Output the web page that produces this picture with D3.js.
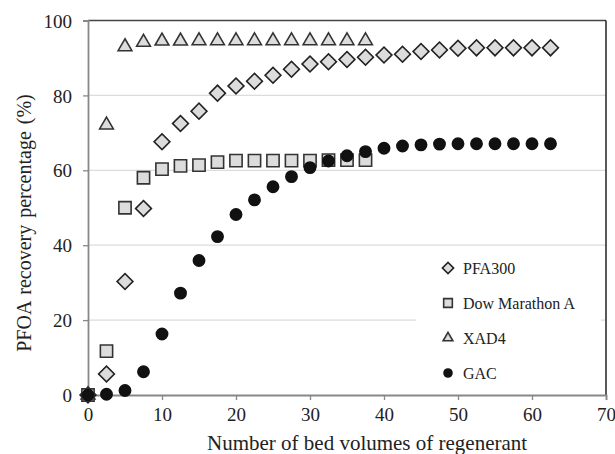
<!DOCTYPE html>
<html>
<head>
<meta charset="utf-8">
<script src="https://cdn.jsdelivr.net/npm/d3@7"></script>
<style>
  body { margin: 0; background: #fff; }
  svg text { font-family: "Liberation Serif", "Times New Roman", Tinos, "DejaVu Serif", serif !important; fill: #222; }
</style>
</head>
<body>
<svg id="chart" width="615" height="454"></svg>
<script>
// bed volumes (x) shared by all series, step 2.5
const bedVolumes = [0, 2.5, 5, 7.5, 10, 12.5, 15, 17.5, 20, 22.5, 25, 27.5, 30, 32.5, 35, 37.5,
    40, 42.5, 45, 47.5, 50, 52.5, 55, 57.5, 60, 62.5];

const pfa300 = [0, 5.6, 30.3, 49.8, 67.6, 72.5, 75.8, 80.6, 82.5, 83.8, 85.4, 87.0, 88.4, 89.0, 89.6, 90.2,
    90.8, 91.0, 91.7, 92.1, 92.6, 92.7, 92.7, 92.7, 92.7, 92.7];
const dowMarathonA = [0, 11.7, 50.0, 58.0, 60.3, 61.2, 61.4, 62.2, 62.6, 62.6, 62.6, 62.6, 62.6, 62.7, 62.7, 62.7];
const xad4 = [0, 72.1, 93.0, 94.2, 94.5, 94.5, 94.6, 94.6, 94.6, 94.6, 94.6, 94.6, 94.6, 94.6, 94.6, 94.6];
const gac = [0, 0.2, 1.2, 6.2, 16.3, 27.2, 35.9, 42.3, 48.2, 52.1, 55.6, 58.3, 60.7, 62.5, 63.9, 65.0,
    65.9, 66.5, 66.8, 67.0, 67.1, 67.1, 67.1, 67.1, 67.1, 67.1];

const seriesNames = ["PFA300", "Dow Marathon A", "XAD4", "GAC"];
const xTicks = [0, 10, 20, 30, 40, 50, 60, 70];
const yTicks = [0, 20, 40, 60, 80, 100];

const chart = {
    margin: { top: 20.5, right: 9, bottom: 59, left: 88 },
    width: 615,
    height: 454
};

const svg = d3.select("#chart");
const innerW = chart.width - chart.margin.left - chart.margin.right;
const innerH = chart.height - chart.margin.top - chart.margin.bottom;

const x = d3.scaleLinear().domain([0, 70]).range([0, innerW]);
const y = d3.scaleLinear().domain([0, 100]).range([innerH, 0]);

const g = svg.append("g")
    .attr("transform", `translate(${chart.margin.left},${chart.margin.top})`);

// gridlines
g.selectAll("line.grid")
    .data(yTicks.filter(d => d > 0 && d < 100))
    .enter()
    .append("line")
    .attr("class", "grid")
    .attr("x1", 0).attr("x2", innerW)
    .attr("y1", d => y(d)).attr("y2", d => y(d))
    .attr("stroke", "#dcdcdc")
    .attr("stroke-width", 1.3);

// frame: top and right darker
g.append("line")
    .attr("x1", 0).attr("x2", innerW).attr("y1", 0).attr("y2", 0)
    .attr("stroke", "#444").attr("stroke-width", 1.5);
g.append("line")
    .attr("x1", innerW).attr("x2", innerW).attr("y1", 0).attr("y2", innerH)
    .attr("stroke", "#222").attr("stroke-width", 1.5);

// axes
const xAxis = g.append("g")
    .attr("transform", `translate(0,${innerH})`)
    .call(d3.axisBottom(x).tickValues(xTicks).tickSize(5).tickPadding(8));
const yAxis = g.append("g")
    .call(d3.axisLeft(y).tickValues(yTicks).tickSize(5).tickPadding(11));

[xAxis, yAxis].forEach(ax => {
    ax.attr("font-family", null);
    ax.select(".domain").attr("stroke", "#888").attr("stroke-width", 1.8);
    ax.selectAll(".tick line").attr("stroke", "#888").attr("stroke-width", 1.3);
    ax.selectAll(".tick text")
        .style("font-size", "19px")
        .attr("fill", "#222");
});
yAxis.selectAll(".tick text").attr("dy", "0.35em");

// symbols
const symbolFor = {
    "PFA300": { type: d3.symbolSquare, size: 125, rotate: 45, fill: "#dcdcdc", stroke: "#222" },
    "Dow Marathon A": { type: d3.symbolSquare, size: 150, rotate: 0, fill: "#dcdcdc", stroke: "#333" },
    "XAD4": { type: d3.symbolTriangle, size: 82, rotate: 0, fill: "#dcdcdc", stroke: "#333" },
    "GAC": { type: d3.symbolCircle, size: 100, rotate: 0, fill: "#111", stroke: "#111" }
};

const seriesData = [
    { name: "PFA300", values: pfa300 },
    { name: "Dow Marathon A", values: dowMarathonA },
    { name: "XAD4", values: xad4 },
    { name: "GAC", values: gac }
];

seriesData.forEach(s => {
    const sym = symbolFor[s.name];
    g.append("g")
        .selectAll("path")
        .data(s.values.map((v, i) => ({ x: bedVolumes[i], y: v })))
        .enter()
        .append("path")
        .attr("d", d3.symbol().type(sym.type).size(sym.size))
        .attr("transform", d => `translate(${x(d.x)},${y(d.y)}) rotate(${sym.rotate})`)
        .attr("fill", sym.fill)
        .attr("stroke", sym.stroke)
        .attr("stroke-width", 1.6);
});

// legend
const legend = svg.append("g").attr("transform", "translate(416,250)");
legend.append("rect")
    .attr("width", 185).attr("height", 140)
    .attr("fill", "#fff");
seriesNames.forEach((name, i) => {
    const sym = symbolFor[name];
    const row = legend.append("g").attr("transform", `translate(32,${18 + i * 35})`);
    row.append("path")
        .attr("d", d3.symbol().type(sym.type).size(sym.size * 0.5))
        .attr("transform", `rotate(${sym.rotate})`)
        .attr("fill", sym.fill)
        .attr("stroke", sym.stroke)
        .attr("stroke-width", 1.6);
    row.append("text")
        .attr("x", 15)
        .attr("dy", "0.35em")
        .style("font-size", "16px")
        .text(name);
});

// axis titles
svg.append("text")
    .attr("x", 207)
    .attr("y", 450)
    .style("font-size", "21px")
    .text("Number of bed volumes of regenerant");

svg.append("text")
    .attr("transform", "translate(31,223) rotate(-90)")
    .attr("text-anchor", "middle")
    .style("font-size", "20px")
    .style("word-spacing", "2px")
    .text("PFOA  recovery  percentage (%)");
</script>
</body>
</html>
